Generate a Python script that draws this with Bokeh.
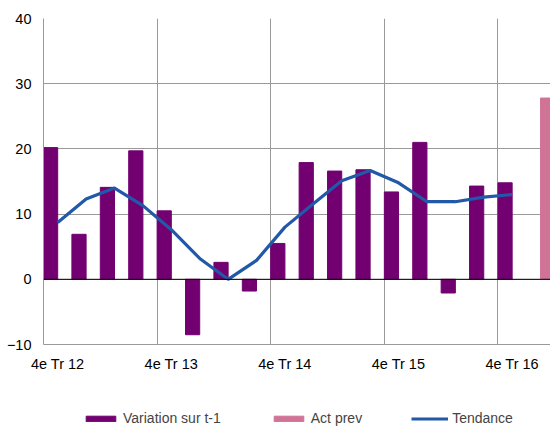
import math
from bokeh.plotting import figure
from bokeh.layouts import column
from bokeh.models import (ColumnDataSource, FixedTicker, Span, Legend, LegendItem, Range1d)
from bokeh.transform import dodge
from bokeh.embed import file_html
from bokeh.resources import INLINE

# ---- data ----
tick_labels = ["4e Tr 12", "4e Tr 13", "4e Tr 14", "4e Tr 15", "4e Tr 16"]
tick_index = [0, 4, 8, 12, 16]
variation = [20.2, 6.9, 14.1, 19.7, 10.5, -8.5, 2.6, -1.8, 5.5, 17.9,
             16.6, 16.8, 13.4, 21.0, -2.1, 14.3, 14.8, float("nan")]
act_prev = [float("nan")] * 17 + [27.8]
tendance = [8.7, 12.3, 14.0, 11.3, 7.6, 3.2, 0.0, 2.9, 8.0, 11.6,
            15.1, 16.7, 14.8, 11.9, 11.9, 12.6, 13.0]
y_ticks = [-10, 0, 10, 20, 30, 40]
series_names = ["Variation sur t-1", "Act prev", "Tendance"]

idx = list(range(len(variation)))
src = ColumnDataSource(dict(x=idx, var=variation, act=act_prev))
lsrc = ColumnDataSource(dict(x=list(range(len(tendance))), y=tendance))

PURPLE = "#720070"
PINK = "#D07396"
BLUE = "#2159A8"
GRID = "#9a9a9a"
FONT = "Liberation Sans"


def draw_series(fig):
    rv = fig.vbar(x=dodge("x", 0.25), top="var", bottom=0, width=0.5,
                  color=PURPLE, source=src)
    ra = fig.vbar(x=dodge("x", 0.75), top="act", bottom=0, width=0.5,
                  color=PINK, source=src)
    rl = fig.line(x=dodge("x", 0.5), y="y", source=lsrc, line_color=BLUE,
                  line_width=3.2)
    return rv, ra, rl


# ---- main chart ----
p = figure(width=550, height=400, output_backend="svg", toolbar_location=None,
           x_range=Range1d(0, 17.85), y_range=Range1d(-10, 40),
           min_border_left=43, min_border_right=0, min_border_top=18,
           min_border_bottom=56)
p.outline_line_color = None
p.background_fill_color = "white"
p.border_fill_color = "white"

r_var, r_act, r_line = draw_series(p)
p.add_layout(Span(location=0, dimension="width", line_color="black", line_width=1))
# keep trend line above the zero line
p.renderers.remove(r_line)
p.renderers.append(r_line)

label_pos = [t + 0.5 for t in tick_index]
p.yaxis.ticker = FixedTicker(ticks=y_ticks)
p.xaxis.ticker = FixedTicker(ticks=label_pos)
p.xaxis.major_label_overrides = {t: l for t, l in zip(label_pos, tick_labels)}
for ax in (p.xaxis[0], p.yaxis[0]):
    ax.axis_line_color = GRID
    ax.major_tick_out = 0
    ax.major_tick_in = 0
    ax.minor_tick_out = 0
    ax.minor_tick_in = 0
    ax.major_label_text_font = FONT
    ax.major_label_text_font_size = "14.5px"
    ax.major_label_text_color = "black"
p.yaxis.major_label_standoff = 12
p.xaxis.major_label_standoff = 11

p.xgrid.ticker = FixedTicker(ticks=tick_index)
p.ygrid.ticker = FixedTicker(ticks=y_ticks)
for g in (p.xgrid[0], p.ygrid[0]):
    g.grid_line_color = GRID
    g.grid_line_width = 1

# ---- legend strip (same series, drawn out of view; only the legend shows) ----
q = figure(width=550, height=26, output_backend="svg", toolbar_location=None,
           x_range=p.x_range, y_range=Range1d(1000, 1001),
           x_axis_type=None, y_axis_type=None,
           min_border_left=43, min_border_right=0, min_border_top=0,
           min_border_bottom=0)
q.outline_line_color = None
q.grid.visible = False
q_var, q_act, q_line = draw_series(q)

legend = Legend(items=[LegendItem(label=series_names[0], renderers=[q_var]),
                       LegendItem(label=series_names[1], renderers=[q_act]),
                       LegendItem(label=series_names[2], renderers=[q_line])],
                orientation="horizontal", location=(39, 0),
                glyph_width=37, glyph_height=7, label_standoff=4, spacing=49,
                padding=0, margin=0, border_line_color=None,
                background_fill_color=None,
                label_text_font=FONT, label_text_font_size="14px")
q.add_layout(legend, "center")

layout = column(p, q, spacing=0)
open("out.html", "w").write(file_html(layout, INLINE))
